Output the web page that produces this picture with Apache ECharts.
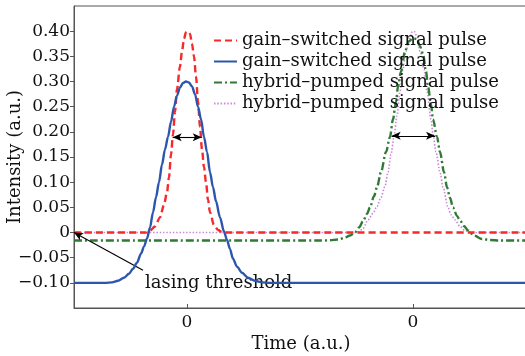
<!DOCTYPE html>
<html>
<head>
<meta charset="utf-8">
<script src="https://cdn.jsdelivr.net/npm/echarts@6/dist/echarts.min.js"></script>
<style>html,body{margin:0;padding:0;background:#fff;}#c{width:525px;height:356px;}</style>
</head>
<body>
<div id="c"></div>
<script>
// Time (a.u.), origin at first pulse centre
const redT = [-113,-47,-41,-37,-32,-27,-23,-20,-18,-16,-14,-12,-10,-7,-5,-3,-1,1,3,5,7,9,11,13,15,17,19,21,23,27,31,35,41,341];
const redV = [0,0,0,0.004,0.012,0.03,0.055,0.08,0.11,0.155,0.195,0.24,0.285,0.33,0.36,0.385,0.398,0.40,0.395,0.375,0.35,0.31,0.26,0.21,0.165,0.13,0.10,0.065,0.04,0.015,0.005,0.001,0,0];

const blueT = [-113,-82,-75,-69,-63,-58,-54,-50,-46,-43,-40,-37,-34,-31,-28,-25,-22,-19,-16,-13,-10,-7,-4,-1,2,5,8,11,14,17,20,23,26,29,33,37,40,43,46,50,55,61,68,75,83,341];
const blueV = [-0.1,-0.1,-0.099,-0.096,-0.09,-0.082,-0.072,-0.06,-0.042,-0.028,-0.012,0.01,0.04,0.07,0.10,0.135,0.165,0.19,0.22,0.25,0.272,0.288,0.297,0.30,0.298,0.29,0.275,0.25,0.225,0.19,0.16,0.12,0.09,0.062,0.03,0.002,-0.015,-0.033,-0.052,-0.068,-0.08,-0.09,-0.096,-0.099,-0.1,-0.1];

const greenT = [-113,133,143,151,158,163,168,172,176,180,183,187,190,194,199,203,206,209,211,214,218,222,226,230,233,236,239,241,244,246,250,253,257,260,263,266,270,273,277,281,287,295,303,313,341];
const greenV = [-0.016,-0.016,-0.0155,-0.014,-0.01,-0.006,0,0.01,0.022,0.037,0.05,0.072,0.09,0.12,0.16,0.19,0.225,0.26,0.29,0.32,0.36,0.38,0.386,0.384,0.37,0.355,0.32,0.29,0.255,0.225,0.19,0.16,0.12,0.09,0.069,0.05,0.033,0.024,0.013,0.004,-0.006,-0.013,-0.015,-0.016,-0.016];

const pinkT = [-113,168,172,176,181,186,190,194,198,201,204,207,210,213,216,219,222,225,227,230,233,237,240,244,246,249,253,256,261,264,268,273,278,283,288,341];
const pinkV = [0,0,0.002,0.008,0.025,0.038,0.052,0.07,0.092,0.12,0.155,0.19,0.232,0.28,0.325,0.36,0.385,0.398,0.40,0.39,0.36,0.325,0.28,0.225,0.195,0.16,0.12,0.09,0.05,0.035,0.025,0.012,0.004,0.001,0,0];

const seriesNames = ['gain\u2013switched signal pulse','gain\u2013switched signal pulse ','hybrid\u2013pumped signal pulse','hybrid\u2013pumped signal pulse '];
const xTickValues = [0, 226];
const xTickLabels = ['0', '0'];

// annotation anchors (data coords)
const fwhm1 = [[-14.3, 0.189], [14.7, 0.189]];
const fwhm2 = [[204.7, 0.192], [248, 0.192]];
const thrArrow = [[-44, -0.075], [-113, 0]];
const thrText = [-42, -0.1];

const zip = (a, b) => a.map((v, i) => [v, b[i]]);
const FONT = 'DejaVu Serif';

const chart = echarts.init(document.getElementById('c'), null, {renderer: 'canvas'});
chart.setOption({
  animation: false,
  backgroundColor: '#fff',
  grid: {left: 74, right: -3, top: 6, bottom: 48, show: true, borderColor: '#555', borderWidth: 1, containLabel: false, outerBoundsMode: 'none'},
  legend: {
    orient: 'vertical', left: 208, top: 26, itemWidth: 23, itemHeight: 12, itemGap: 2,
    itemStyle: {opacity: 0},
    textStyle: {fontFamily: FONT, fontSize: 18, color: '#111', lineHeight: 19},
    data: seriesNames
  },
  xAxis: {
    type: 'value', min: -113, max: 341,
    name: 'Time (a.u.)', nameLocation: 'middle', nameGap: 27, nameMoveOverlap: false,
    nameTextStyle: {fontFamily: FONT, fontSize: 18, color: '#111'},
    axisLine: {show: true, onZero: false, lineStyle: {color: '#555', width: 1}},
    axisTick: {show: true, inside: true, length: 4, customValues: xTickValues, lineStyle: {color: '#555'}},
    axisLabel: {customValues: xTickValues, formatter: (v) => xTickLabels[xTickValues.indexOf(v)] ?? '0', fontFamily: FONT, fontSize: 17, color: '#111', margin: 6},
    splitLine: {show: false}
  },
  yAxis: {
    type: 'value', min: -0.15, max: 0.45, interval: 0.05,
    name: 'Intensity (a.u.)', nameLocation: 'middle', nameGap: 50, nameMoveOverlap: false,
    nameTextStyle: {fontFamily: FONT, fontSize: 18, color: '#111'},
    axisLine: {show: true, onZero: false, lineStyle: {color: '#555', width: 1}},
    axisTick: {show: true, inside: false, length: 4, lineStyle: {color: '#555'}},
    axisLabel: {
      showMinLabel: false, showMaxLabel: false,
      fontFamily: FONT, fontSize: 17, color: '#111', margin: 4,
      formatter: (v) => {
        const r = Math.round(v * 100) / 100;
        if (Math.abs(r) < 1e-9) return '0';
        if (r > 0.449 || r < -0.149) return '';
        return (r < 0 ? '\u2212' : '') + Math.abs(r).toFixed(2);
      }
    },
    splitLine: {show: false}
  },
  series: [
    {
      name: seriesNames[3], type: 'line', data: zip(pinkT, pinkV), symbol: 'none', smooth: 0.3, smoothMonotone: 'x', z: 2,
      lineStyle: {color: '#c98ad6', width: 1.6, type: [1.5, 1.8]}, itemStyle: {color: '#c98ad6'}
    },
    {
      name: seriesNames[2], type: 'line', data: zip(greenT, greenV), symbol: 'none', smooth: 0.3, smoothMonotone: 'x', z: 3,
      lineStyle: {color: '#2f7a34', width: 2.4, type: [8, 3, 2, 3]}, itemStyle: {color: '#2f7a34'}
    },
    {
      name: seriesNames[0], type: 'line', data: zip(redT, redV), symbol: 'none', smooth: 0.3, smoothMonotone: 'x', z: 4,
      lineStyle: {color: '#f7292a', width: 2.4, type: [7, 4]}, itemStyle: {color: '#f7292a'},
      markLine: {
        silent: true, animation: false, symbol: ['arrow', 'arrow'], symbolSize: [6, 9],
        lineStyle: {color: '#000', width: 1.1, type: 'solid'}, label: {show: false},
        data: [
          [{coord: fwhm1[0]}, {coord: fwhm1[1]}],
          [{coord: fwhm2[0]}, {coord: fwhm2[1]}],
          [{coord: thrArrow[0], symbol: 'none'}, {coord: thrArrow[1], symbol: 'arrow'}]
        ]
      },
      markPoint: {
        silent: true, animation: false,
        data: [{coord: thrText, symbol: 'circle', symbolSize: 0,
          label: {show: true, position: 'right', distance: 0, formatter: 'lasing threshold', fontFamily: FONT, fontSize: 18, color: '#111'}}]
      }
    },
    {
      name: seriesNames[1], type: 'line', data: zip(blueT, blueV), symbol: 'none', smooth: 0.3, smoothMonotone: 'x', z: 5,
      lineStyle: {color: '#2c56ad', width: 2.4, type: 'solid'}, itemStyle: {color: '#2c56ad'}
    }
  ]
});
</script>
</body>
</html>
